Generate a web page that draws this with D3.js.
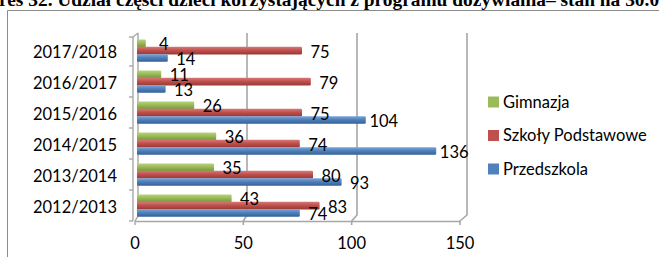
<!DOCTYPE html>
<html><head><meta charset="utf-8">
<script src="https://cdn.jsdelivr.net/npm/d3@7"></script>
<style>
html,body{margin:0;padding:0;background:#fff;overflow:hidden}
svg{display:block}
</style></head>
<body>
<svg id="c" width="659" height="257"></svg>
<script>
const categories = ["2012/2013","2013/2014","2014/2015","2015/2016","2016/2017","2017/2018"];
const seriesNames = ["Gimnazja","Szkoły Podstawowe","Przedszkola"];
const gimnazja = [43,35,36,26,11,4];
const szkolyPodstawowe = [83,80,74,75,79,75];
const przedszkola = [74,93,136,104,13,14];
const xTicks = [0,50,100,150];
const titleText = "Wykres 32. Udział części dzieci korzystających z programu dożywiania– stan na 30.06.2018 r.";

const seriesValues = [gimnazja, szkolyPodstawowe, przedszkola];
const colors = {"Gimnazja":["#b7d27e","#9bbb59","#77963a"],"Szkoły Podstawowe":["#d67a77","#c0504d","#973936"],"Przedszkola":["#7fa5d8","#4f81bd","#365f94"]};
const FONT = "Lato, 'Open Sans', sans-serif";

const svg = d3.select("#c");
const defs = svg.append("defs");
seriesNames.forEach((s,i)=>{
  const g = defs.append("linearGradient").attr("id","g"+i).attr("x1",0).attr("y1",0).attr("x2",0).attr("y2",1);
  g.append("stop").attr("offset","0%").attr("stop-color",colors[s][0]);
  g.append("stop").attr("offset","45%").attr("stop-color",colors[s][1]);
  g.append("stop").attr("offset","100%").attr("stop-color",colors[s][2]);
});

// Title (clipped at top)
const TF = "'Liberation Serif','Times New Roman',serif";
const TS = 19.4;
const tt = svg.append("text").attr("font-family",TF)
  .attr("font-weight","bold").attr("font-size",TS).attr("y",6).text(titleText);
const pre = svg.append("text").attr("font-family",TF)
  .attr("font-weight","bold").attr("font-size",TS).text("Wyk");
const preW = pre.node().getComputedTextLength(); pre.remove();
tt.attr("x", -preW - 1);

// frame
svg.append("path").attr("d","M7.5,257 V10.5 H659").attr("fill","none").attr("stroke","#8c8c8c").attr("stroke-width",1);

// scales
const xBack = d3.scaleLinear().domain([0,150]).range([137,467]);
const xFront = d3.scaleLinear().domain([0,150]).range([135,460]);
const catsTop = categories.slice().reverse();
const y = d3.scaleBand().domain(catsTop).range([35,221]).paddingInner(0.29).paddingOuter(0.145);
const yInner = d3.scaleBand().domain(seriesNames).range([0,y.bandwidth()]);
const yEdge = d3.scaleLinear().domain([0,categories.length]).range([35,221]);
const grid = "#a6a6a6";

// back gridlines
const gl = svg.append("g");
xTicks.slice(1).forEach(v=>{
  gl.append("path").attr("d",`M${xBack(v)},33 V215 L${xFront(v)},221 V225`)
    .attr("fill","none").attr("stroke",grid).attr("stroke-width",1.6);
});
// floor
gl.append("path").attr("d",`M${xFront(0)},221.5 H${xFront(150)}`).attr("stroke",grid).attr("stroke-width",1.4);
gl.append("path").attr("d",`M${xFront(0)},221 V225`).attr("stroke",grid).attr("stroke-width",1.4);
// left wall
gl.append("path").attr("d",`M${xBack(0)+1},33 V216 L${xFront(0)},221`).attr("fill","none").attr("stroke",grid).attr("stroke-width",1.4);
gl.append("path").attr("d",`M${xFront(0)-2},37 V221`).attr("fill","none").attr("stroke",grid).attr("stroke-width",1.4);
gl.append("path").attr("d",`M${xFront(0)-2},37 L${xBack(0)+1},33`).attr("fill","none").attr("stroke",grid).attr("stroke-width",1.2);
d3.range(categories.length+1).forEach(k=>{
  gl.append("line").attr("x1",xFront(0)-6).attr("x2",xFront(0)-2)
    .attr("y1",yEdge(k)+ (k===0?2:0)).attr("y2",yEdge(k)+(k===0?2:0))
    .attr("stroke",grid).attr("stroke-width",1.4);
});

// bars
const bars = svg.append("g");
seriesNames.forEach((s,si)=>{
  categories.forEach((c,ci)=>{
    const v = seriesValues[si][ci];
    const y0 = y(c)+yInner(s);
    bars.append("rect").attr("x",xBack(0)).attr("y",y0)
      .attr("width",xBack(v)-xBack(0)).attr("height",yInner.bandwidth()+0.3)
      .attr("rx",1.2).attr("fill",`url(#g${si})`);
  });
});
// labels
const labs = svg.append("g").attr("font-family",FONT).attr("font-size",16.5).attr("fill","#000");
seriesNames.forEach((s,si)=>{
  categories.forEach((c,ci)=>{
    const v = seriesValues[si][ci];
    const yc = y(c)+yInner(s)+yInner.bandwidth()/2+1.5;
    labs.append("text").attr("x",xBack(v)+18).attr("y",yc).attr("dy","0.35em")
      .attr("text-anchor","middle").text(v);
  });
});

// category labels
const cl = svg.append("g").attr("font-family",FONT).attr("font-size",16.5).attr("fill","#000");
categories.forEach(c=>{
  cl.append("text").attr("x",117).attr("y",y(c)+y.bandwidth()/2+1.5).attr("dy","0.35em")
    .attr("text-anchor","end").text(c);
});
// x tick labels
xTicks.forEach(v=>{
  cl.append("text").attr("x",xFront(v)).attr("y",243).attr("dy","0.35em").attr("text-anchor","middle").text(v);
});

// legend
const leg = svg.append("g").attr("font-family",FONT).attr("font-size",16.5);
seriesNames.forEach((s,i)=>{
  const cy = 102 + i*33.5;
  leg.append("rect").attr("x",488).attr("y",cy-5.5).attr("width",11).attr("height",11).attr("fill",colors[s][1]);
  leg.append("text").attr("x",503).attr("y",cy).attr("dy","0.35em").text(s);
});
</script>
</body></html>
